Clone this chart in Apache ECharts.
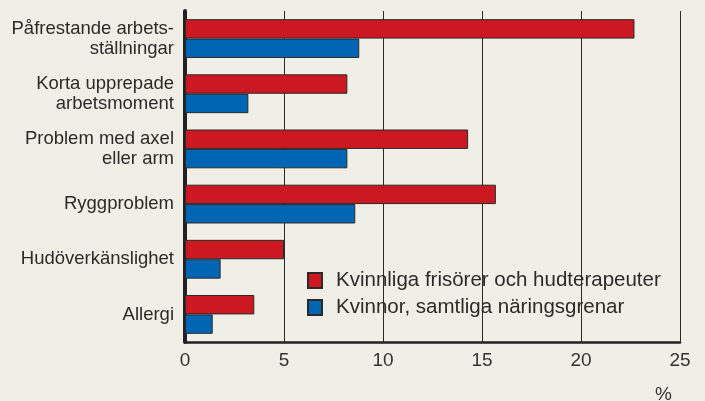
<!DOCTYPE html>
<html>
<head>
<meta charset="utf-8">
<script src="https://cdn.jsdelivr.net/npm/echarts@6/dist/echarts.min.js"></script>
<style>
  html, body { margin: 0; padding: 0; background: #f0efe7; }
  #chart { width: 705px; height: 401px; }
</style>
</head>
<body>
<div id="chart"></div>
<script>
var categories = [
  'Påfrestande arbets-\nställningar',
  'Korta upprepade\narbetsmoment',
  'Problem med axel\neller arm',
  'Ryggproblem',
  'Hudöverkänslighet',
  'Allergi'
];
var seriesNames = ['Kvinnliga frisörer och hudterapeuter', 'Kvinnor, samtliga näringsgrenar'];
var frisorer = [22.7, 8.2, 14.3, 15.7, 5.0, 3.5];
var samtliga = [8.8, 3.2, 8.2, 8.6, 1.8, 1.4];
var xTicks = [0, 5, 10, 15, 20, 25];

var chart = echarts.init(document.getElementById('chart'));
var font = 'Liberation Sans, Arial, sans-serif';
var options = {
  backgroundColor: '#f0efe7',
  animation: false,
  textStyle: { fontFamily: font },
  grid: { left: 185, right: 25, top: 11, bottom: 59 },
  legend: {
    orient: 'vertical',
    left: 302,
    top: 265,
    icon: 'rect',
    itemWidth: 14,
    itemHeight: 15,
    itemGap: 6,
    itemTextGap: 14,
    textStyle: { fontSize: 20.5, lineHeight: 21, color: '#2a2a2a', fontFamily: font, padding: [0, 0, 0, 9] },
    data: seriesNames
  },
  xAxis: {
    type: 'value',
    min: xTicks[0],
    max: xTicks[xTicks.length - 1],
    interval: 5,
    axisLine: { show: true, lineStyle: { color: '#222', width: 2.5 } },
    axisTick: { show: false },
    axisLabel: { fontSize: 19, color: '#333', margin: 9, fontFamily: font },
    splitLine: { show: true, lineStyle: { color: '#2a2a2a', width: 1 } }
  },
  yAxis: {
    type: 'category',
    inverse: true,
    data: categories,
    axisLine: { show: true, lineStyle: { color: '#222', width: 4 } },
    axisTick: { show: false },
    axisLabel: { fontSize: 18.5, color: '#2a2a2a', margin: 11, lineHeight: 20, fontFamily: font }
  },
  graphic: [{
    type: 'text',
    left: 655,
    top: 385,
    style: { text: '%', fontSize: 19, fill: '#333', fontFamily: font }
  }],
  series: [{
    name: seriesNames[0],
    type: 'bar',
    data: frisorer,
    barWidth: 19.4,
    barGap: '0%',
    itemStyle: { color: '#cc1820', borderColor: '#2a2a2a', borderWidth: 1 }
  }, {
    name: seriesNames[1],
    type: 'bar',
    data: samtliga,
    barWidth: 19.4,
    barGap: '0%',
    itemStyle: { color: '#0065b2', borderColor: '#2a2a2a', borderWidth: 1 }
  }]
};
chart.setOption(options);
</script>
</body>
</html>
